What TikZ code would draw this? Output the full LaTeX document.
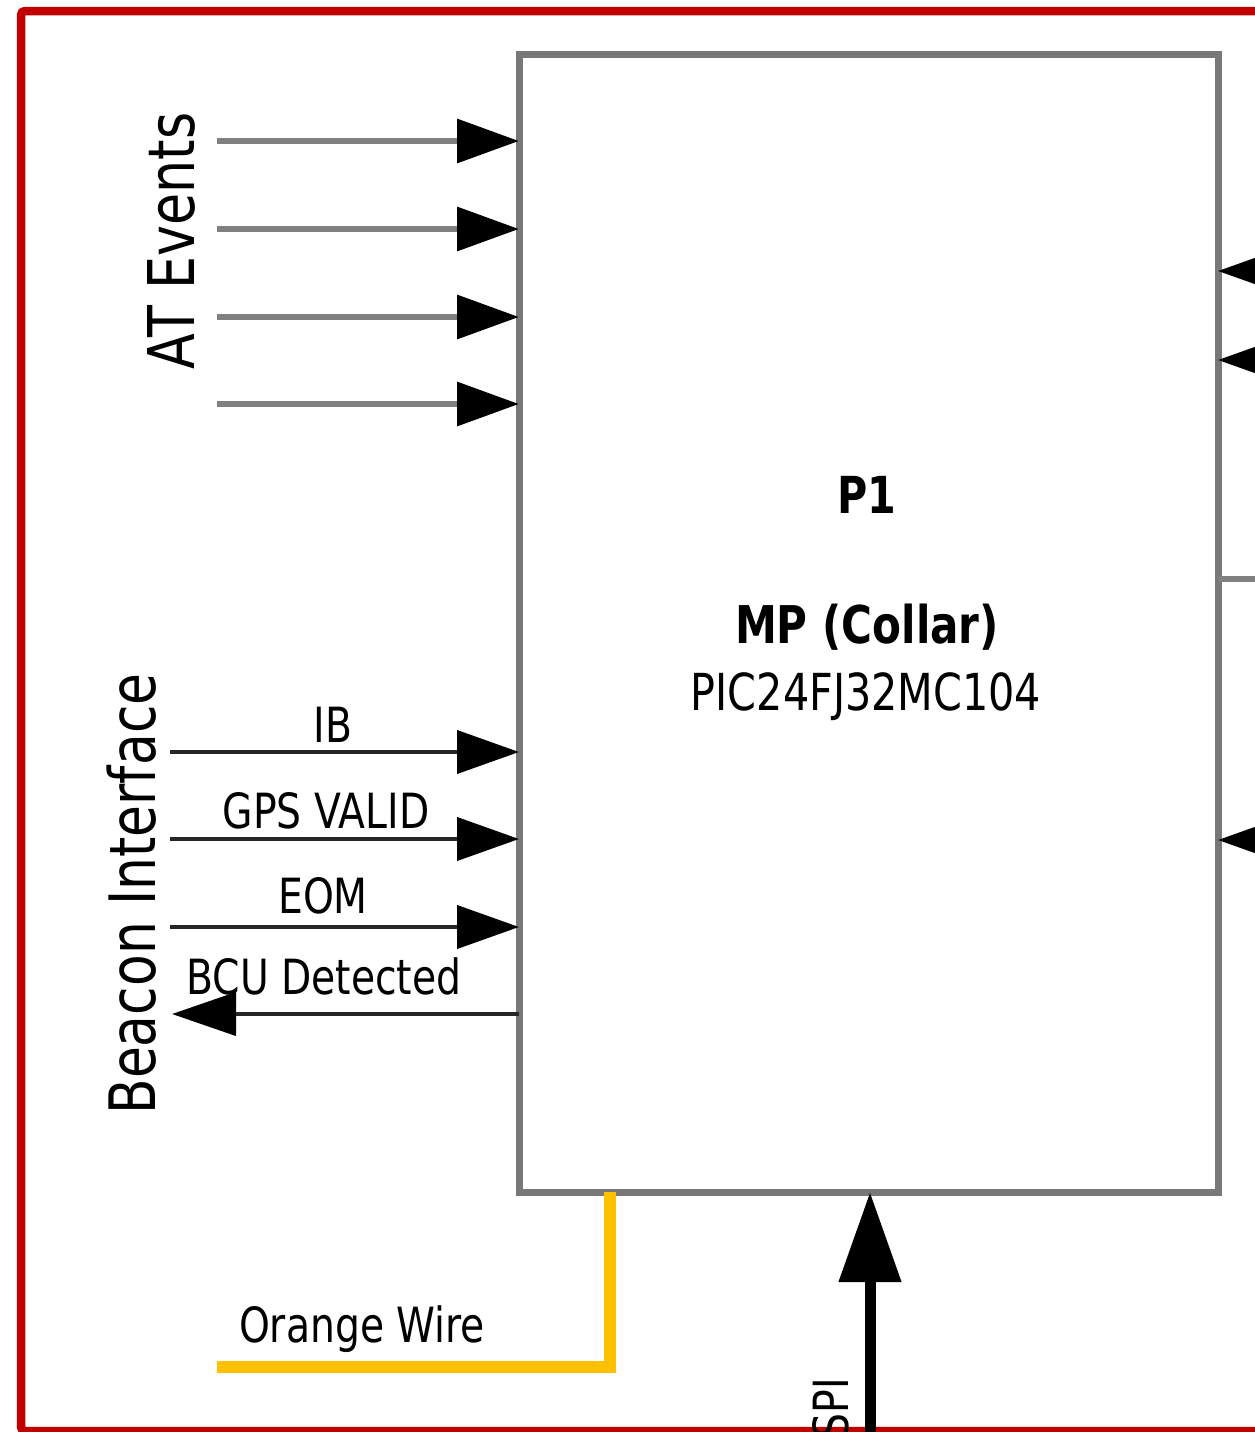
\documentclass[tikz,border=0pt]{standalone}
\usepackage{fontspec}
\setmainfont{DejaVu Sans}[FakeStretch=0.81]
\usetikzlibrary{arrows.meta}
\definecolor{framered}{RGB}{192,0,0}
\definecolor{wireorange}{RGB}{255,192,0}
\definecolor{boxgray}{RGB}{120,120,120}
\definecolor{atgray}{RGB}{128,128,128}
\begin{document}
\begin{tikzpicture}[x=1pt,y=-1pt,
  blackhead/.style={-{Triangle[length=62pt,width=43pt,color=black]}},
  atline/.style={draw=atgray, line width=6.5pt, blackhead},
  bline/.style={draw=black!85, line width=4pt, blackhead},
  grayline/.style={draw=atgray, line width=6pt},
  lbl/.style={font=\fontsize{48.5}{52}\selectfont, inner sep=0pt, anchor=base},
  bigrot/.style={font=\fontsize{64.5}{70}\selectfont, inner sep=0pt, rotate=90, anchor=base},
  boxtxt/.style={font=\fontsize{51}{56}\selectfont, inner sep=0pt, anchor=base}]
\useasboundingbox (0,0) rectangle (1255,1432);
\clip (0,0) rectangle (1255,1432);
% red frame
\draw[framered, line width=8.5pt, rounded corners=4pt] (21,11) rectangle (1300,1431);
% main box
\node[draw=boxgray, line width=7pt, minimum width=699pt, minimum height=1138pt,
      inner sep=0pt, outer sep=0pt] (mp) at (868.5,623) {};
% box texts
\node[boxtxt, font=\fontsize{51}{56}\selectfont\bfseries] (p1) at (867,513) {P1};
\node[boxtxt, font=\fontsize{52}{56}\selectfont\bfseries] (mpc) at (867,643) {MP (Collar)};
\node[boxtxt] (pic) at (866,710) {PIC24FJ32MC104};
% AT events
\coordinate (at1) at (217,141);
\coordinate (at2) at (217,229);
\coordinate (at3) at (217,317);
\coordinate (at4) at (217,404);
\foreach \c in {at1,at2,at3,at4}
  \draw[atline] (\c) -- (\c -| mp.west);
\node[bigrot] (atev) at (194,241) {AT Events};
% beacon interface
\coordinate (ibc) at (170,752);
\coordinate (gpsc) at (170,839);
\coordinate (eomc) at (170,927);
\coordinate (bcuc) at (172,1014);
\draw[bline] (ibc) -- (ibc -| mp.west);
\draw[bline] (gpsc) -- (gpsc -| mp.west);
\draw[bline] (eomc) -- (eomc -| mp.west);
\draw[bline, -{Triangle[length=64pt,width=43pt,color=black]}] (bcuc -| mp.west) -- (bcuc);
\node[lbl] (ib) at (333,742) {IB};
\node[lbl] (gps) at (326,828) {GPS VALID};
\node[lbl] (eom) at (323,913) {EOM};
\node[lbl] (bcut) at (324,994) {BCU Detected};
\node[bigrot, font=\fontsize{64}{70}\selectfont] (beacon) at (155,894) {Beacon Interface};
% right side
\coordinate (r1) at (1330,271);
\coordinate (r2) at (1330,360);
\coordinate (r3) at (1330,840);
\coordinate (r4) at (1300,579);
\foreach \c in {r1,r2,r3}
  \draw[bline] (\c) -- (\c -| mp.east);
\draw[grayline] (mp.east |- r4) -- (r4);
% SPI
\coordinate (spic) at (870,1470);
\draw[black, line width=11pt, -{Triangle[length=90pt,width=60pt]}] (spic) -- (spic |- mp.south);
\node[lbl, rotate=90, anchor=base east] (spit) at (848,1378) {SPI};
% orange wire
\coordinate (owc) at (610,1367);
\coordinate (owe) at (217,1367);
\draw[wireorange, line width=12pt] (owc |- mp.south) -- (owc) -- (owe);
\node[lbl] (owt) at (362,1342) {Orange Wire};
\end{tikzpicture}
\end{document}
